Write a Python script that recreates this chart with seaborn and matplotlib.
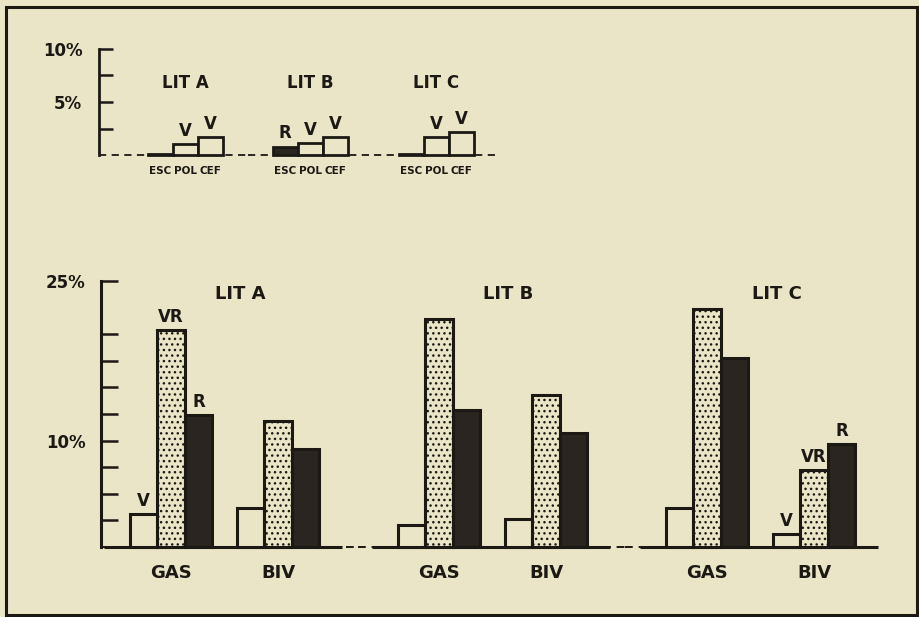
import numpy as np
import pandas as pd
import matplotlib
matplotlib.use("Agg")
import matplotlib.pyplot as plt
from matplotlib.patches import Rectangle
import seaborn as sns

# ---------------------------------------------------------------- data
lits = ["LIT A", "LIT B", "LIT C"]
grupos = ["GAS", "BIV"]
series = ["blanco", "punteado", "negro"]

# lower panel: percentage per littoral level, group and series
gas_blanco = [3.1, 2.1, 3.7]
gas_punteado = [20.4, 21.4, 22.4]
gas_negro = [12.4, 12.9, 17.8]
biv_blanco = [3.7, 2.6, 1.2]
biv_punteado = [11.8, 14.3, 7.2]
biv_negro = [9.2, 10.7, 9.7]

# letters printed above the lower bars (per lit, per group, per series)
letras_gas = [["V", "VR", "R"], ["", "", ""], ["", "", ""]]
letras_biv = [["", "", ""], ["", "", ""], ["V", "VR", "R"]]

# upper panel: percentage of minor classes per littoral level
clases = ["ESC", "POL", "CEF"]
esc = [0.1, 0.8, 0.1]
pol = [1.0, 1.15, 1.7]
cef = [1.7, 1.7, 2.2]
letras_sup = [["", "V", "V"], ["R", "V", "V"], ["", "V", "V"]]

# ---------------------------------------------------------------- style
BG = "#ebe5c7"
INK = "#1c1915"
DARK = "#2a2521"

sns.set_theme(style="white")
plt.rcParams["font.family"] = ["DejaVu Sans"]
plt.rcParams["font.weight"] = "bold"
plt.rcParams["hatch.linewidth"] = 1.0
plt.rcParams["text.color"] = INK

W, H = 920, 617
fig = plt.figure(figsize=(W / 100, H / 100), dpi=100, facecolor=BG)


def add_axes_px(left, right, top, bottom):
    return fig.add_axes([left / W, 1 - bottom / H, (right - left) / W, (bottom - top) / H])


# figure border
fig.patches.append(Rectangle((6 / W, 2 / H), 911 / W, 608 / H, transform=fig.transFigure,
                             fill=False, edgecolor=INK, linewidth=2.2))

# ---------------------------------------------------------------- lower panel
low_unit = 107.0
low_centers = [171, 439, 707]
low_edges = [(101, 358), (358, 625), (625, 880)]

colores_inf = {"blanco": BG, "punteado": BG, "negro": DARK}

for i, lit in enumerate(lits):
    left, right = low_edges[i]
    ax = add_axes_px(left, right, 281, 547)
    ax.set_facecolor("none")
    df = pd.DataFrame({
        "grupo": ["GAS"] * 3 + ["BIV"] * 3,
        "serie": series * 2,
        "valor": [gas_blanco[i], gas_punteado[i], gas_negro[i],
                  biv_blanco[i], biv_punteado[i], biv_negro[i]],
    })
    sns.barplot(data=df, x="grupo", y="valor", hue="serie", order=grupos,
                hue_order=series, palette=colores_inf, saturation=1,
                width=0.77, gap=0, errorbar=None, legend=False,
                edgecolor=INK, linewidth=2.2, ax=ax, zorder=3)
    for k, cont in enumerate(ax.containers):
        for p in cont:
            p.set_clip_on(False)
            if series[k] == "punteado":
                p.set_hatch("...")
        ax.bar_label(cont, labels=[letras_gas[i][k], letras_biv[i][k]],
                     padding=3, fontsize=12, fontweight="bold", color=INK)

    c = low_centers[i]
    x0, x1 = (left - c) / low_unit, (right - c) / low_unit
    ax.set_xlim(x0, x1)
    ax.set_ylim(0, 25)

    # baseline: solid beneath the groups, dashed in the gaps
    ax.axhline(0, color=INK, lw=1.4, ls=(0, (4, 3)), zorder=1, clip_on=False)
    ax.plot([max(x0, -0.63), min(x1, 1.6)], [0, 0], color=INK, lw=2.2,
            zorder=2, clip_on=False, solid_capstyle="butt")

    ax.text(0.65, 23.8, lit, ha="center", va="center", fontsize=13,
            fontweight="bold", color=INK)

    for s in ax.spines.values():
        s.set_visible(False)
    ax.set_xlabel("")
    ax.set_ylabel("")
    ax.tick_params(axis="x", length=0, pad=12, labelsize=13, labelcolor=INK)
    if i == 0:
        ax.spines["left"].set_visible(True)
        ax.spines["left"].set_linewidth(2.2)
        ax.spines["left"].set_color(INK)
        yt = [2.5, 5, 7.5, 10, 12.5, 15, 17.5, 20, 25]
        ax.set_yticks(yt, ["10%" if v == 10 else "25%" if v == 25 else "" for v in yt])
        ax.tick_params(axis="y", direction="in", length=12, width=1.8, color=INK,
                       pad=11, labelsize=12, labelcolor=INK, left=True)
    else:
        ax.tick_params(axis="y", left=False, labelleft=False)

# ---------------------------------------------------------------- upper panel
up_unit = 25.2
up_first = [160.3, 285.3, 411.3]
up_edges = [(99, 248), (248, 374), (374, 500)]
colores_sup = {"ESC": DARK, "POL": BG, "CEF": BG}

for i, lit in enumerate(lits):
    left, right = up_edges[i]
    ax = add_axes_px(left, right, 49, 155)
    ax.set_facecolor("none")
    df = pd.DataFrame({"clase": clases, "valor": [esc[i], pol[i], cef[i]]})
    sns.barplot(data=df, x="clase", y="valor", hue="clase", order=clases,
                hue_order=clases, palette=colores_sup, saturation=1, width=1,
                errorbar=None, legend=False, edgecolor=INK, linewidth=2.0,
                ax=ax, zorder=3)
    for cont in ax.containers:
        labs = []
        for p in cont:
            p.set_clip_on(False)
            k = int(round(p.get_x() + p.get_width() / 2))
            labs.append(letras_sup[i][k])
        ax.bar_label(cont, labels=labs, padding=3, fontsize=12,
                     fontweight="bold", color=INK)

    c = up_first[i]
    ax.set_xlim((left - c) / up_unit, (right - c) / up_unit)
    ax.set_ylim(0, 10)
    ax.axhline(0, color=INK, lw=1.3, ls=(0, (4, 3)), zorder=1, clip_on=False)

    ax.text(1, 6.8, lit, ha="center", va="center", fontsize=12,
            fontweight="bold", color=INK)

    for s in ax.spines.values():
        s.set_visible(False)
    ax.set_xlabel("")
    ax.set_ylabel("")
    ax.tick_params(axis="x", length=0, pad=8, labelcolor=INK)
    for t in ax.get_xticklabels():
        t.set_fontsize(7.5)
        t.set_fontweight("bold")
    if i == 0:
        ax.spines["left"].set_visible(True)
        ax.spines["left"].set_linewidth(2.0)
        ax.spines["left"].set_color(INK)
        yt = [2.5, 5, 7.5, 10]
        ax.set_yticks(yt, ["", "5%", "", "10%"])
        ax.tick_params(axis="y", direction="in", length=10, width=1.8, color=INK,
                       pad=12, labelsize=12, labelcolor=INK, left=True)
    else:
        ax.tick_params(axis="y", left=False, labelleft=False)

fig.savefig("out.png", dpi=100, facecolor=BG)
